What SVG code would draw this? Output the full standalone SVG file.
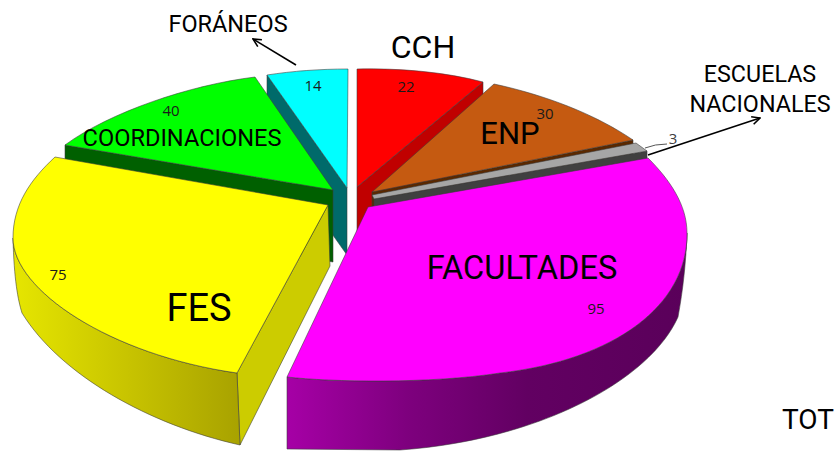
<svg xmlns="http://www.w3.org/2000/svg" width="837" height="453" viewBox="0 0 837 453">
<defs>
<style>
.e{stroke:#3a3a3a;stroke-width:0.7;stroke-opacity:0.8;stroke-linejoin:round}
.lbl{font-family:Roboto,"Liberation Sans",sans-serif;fill:#000;text-anchor:middle}
.num{font-family:"Open Sans","Noto Sans",sans-serif;font-size:15px;fill:#1a1a1a;text-anchor:middle}
.ln{fill:none;stroke:#000;stroke-width:1.6}
</style>
<marker id="ah" viewBox="0 0 10 10" refX="9" refY="5" markerWidth="10" markerHeight="10" markerUnits="userSpaceOnUse" orient="auto">
<path d="M1,1 L9,5 L1,9" fill="none" stroke="#000" stroke-width="1.6"/>
</marker>
<linearGradient id="gy" gradientUnits="userSpaceOnUse" x1="13" y1="0" x2="240" y2="0">
<stop offset="0" stop-color="#e6e600"/><stop offset="0.5" stop-color="#c8c400"/><stop offset="1" stop-color="#a8a200"/>
</linearGradient>
<linearGradient id="gm" gradientUnits="userSpaceOnUse" x1="287" y1="0" x2="687" y2="0">
<stop offset="0" stop-color="#a600a6"/><stop offset="0.3" stop-color="#7e007e"/><stop offset="0.6" stop-color="#620062"/><stop offset="1" stop-color="#5a005a"/>
</linearGradient>
</defs>
<rect width="837" height="453" fill="#fff"/>

<g id="cch">
<path class="e" d="M483,82 L357,187 L357,259 L483,154 Z" fill="#c00000"/>
<path class="e" d="M357,187 L357,69 C400,68 445,72 483,82 Z" fill="#ff0000"/>
</g>

<g id="foraneos">
<path class="e" d="M267,75 L347,188 L347,255 L267,142 Z" fill="#006a6a"/>
<path class="e" d="M347,188 L267,75 C293,71 320,69 348,69 Z" fill="#00ffff"/>
</g>

<g id="enp">
<path class="e" d="M372,192 L633,140 L633,212 L372,264 Z" fill="#5a2800"/>
<path class="e" d="M372,192 L494,84 C545,95 595,114 633,140 Z" fill="#c55a11"/>
</g>

<g id="escuelas">
<path class="e" d="M374,199 L647,151 L647,223 L374,271 Z" fill="#404040"/>
<path class="e" d="M372,195 L636,143 L647,151 L374,199 Z" fill="#a6a6a6"/>
</g>

<g id="coordinaciones">
<path class="e" d="M65,145 L333,190 L333,262 L65,217 Z" fill="#006000"/>
<path class="e" d="M333,190 L255,77 C190,85 110,112 65,145 Z" fill="#00ff00"/>
</g>

<g id="fes">
<path class="e" d="M328,205 L237,373 L240,445 L330,266 Z" fill="#cccc00"/>
<path class="e" d="M13,238 C14,280 18,300 22,313 C60,375 150,425 240,445 L237,373 C110,355 13,290 13,238 Z" fill="url(#gy)"/>
<path class="e" d="M328,205 L55,157 C30,180 13,205 13,238 C13,290 110,355 237,373 Z" fill="#ffff00"/>
</g>

<g id="facultades">
<path class="e" d="M287,377 C330,382 430,384 500,373 C615,360 688,305 687,233 C686,262 683,290 678,317 C650,380 540,440 400,450 L287,449 Z" fill="url(#gm)"/>
<path class="e" d="M368,207 L648,158 C670,180 687,205 687,233 C688,305 615,360 500,373 C430,384 330,382 287,377 Z" fill="#ff00ff"/>
</g>

<g id="connectors">
<path class="ln" d="M296,65 L253,39" marker-end="url(#ah)"/>
<path class="ln" d="M648,155 L760,118" marker-end="url(#ah)"/>
<path d="M645,148 Q655,144 667,144" fill="none" stroke="#555" stroke-width="1"/>
</g>

<g id="labels">
<text class="lbl" x="228" y="32" font-size="23.5">FORÁNEOS</text>
<text class="lbl" x="423" y="58" font-size="32">CCH</text>
<text class="lbl" x="760" y="82" font-size="23.3">ESCUELAS</text>
<text class="lbl" x="760" y="112" font-size="23.3">NACIONALES</text>
<text class="lbl" x="510" y="144" font-size="31">ENP</text>
<text class="lbl" x="182" y="146" font-size="23.6">COORDINACIONES</text>
<text class="lbl" x="199" y="321" font-size="38">FES</text>
<text class="lbl" x="522" y="279" font-size="32.6">FACULTADES</text>
<text class="lbl" x="782" y="429" font-size="28" style="text-anchor:start">TOT</text>
<text class="num" x="545" y="119">30</text>
<text class="num" x="673" y="144" style="fill:#404040">3</text>
<text class="num" x="406" y="92">22</text>
<text class="num" x="313" y="91">14</text>
<text class="num" x="171" y="116">40</text>
<text class="num" x="58" y="280">75</text>
<text class="num" x="596" y="314">95</text>
</g>
</svg>
